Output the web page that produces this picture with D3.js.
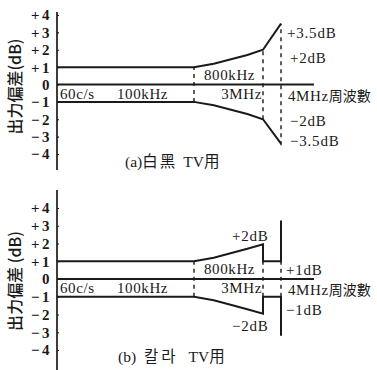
<!DOCTYPE html>
<html><head><meta charset="utf-8">
<script src="https://cdn.jsdelivr.net/npm/d3@7"></script>
<style>
body{margin:0;background:#fff;}
svg text{font-family:"Liberation Serif","DejaVu Serif",serif;fill:#1a1a1a;}
.cjk{font-family:"Noto Sans CJK JP","Noto Sans CJK KR",sans-serif;}
</style></head><body>
<svg id="c" width="377" height="370"></svg>
<script>
// ---- data ----
const yTicks = [4,3,2,1,0,-1,-2,-3,-4];
const freqBreaks = [0, 0.8, 3, 4, 4.75];            // MHz (0 ≈ 60c/s)
const freqLabels = [
  {f:0, text:"60c/s", side:"below"},
  {f:0.35, text:"100kHz", side:"below"},
  {f:0.8, text:"800kHz", side:"above"},
  {f:3, text:"3MHz", side:"below"},
  {f:4, text:"4MHz周波數", side:"below"}
];
// (a) black & white TV
const bwUpper = [[0,1],[0.8,1],[1.43,1.2],[2.5,1.7],[3,2],[4,3.5]];
const bwLower = [[0,-1],[0.8,-1],[1.43,-1.2],[2.5,-1.7],[3,-2],[4,-3.4]];
const bwDashes = [[0.8,-1,1],[3,-2,2],[4,-3.5,3.5]];
const bwNotes = ["+3.5dB","+2dB","−2dB","−3.5dB"];
// (b) colour TV
const colUpper = [[0,1],[0.8,1],[1.43,1.2],[2.5,1.7],[3,1.95],[3,1],[4,1],[4,3.3]];
const colLower = [[0,-1],[0.8,-1],[1.43,-1.2],[2.5,-1.7],[3,-1.95],[3,-1],[4,-1],[4,-3.2]];
const colDashes = [[0.8,-1,1],[3,-1,1],[4,-1,1]];
const colNotes = ["+2dB","+1dB","−1dB","−2dB"];

const svg = d3.select("#c");
const ink = "#1a1a1a";
const x = d3.scaleLinear().domain(freqBreaks).range([57,194,263,281,314]);

function panel(yTop, yBot, upper, lower, dashes, title, titlePos, yTitle, axisTop, axisBot, notesFn){
  const y = d3.scaleLinear().domain([4,-4]).range([yTop,yBot]);
  const g = svg.append("g");
  g.append("line").attr("x1",57).attr("x2",57).attr("y1",axisTop).attr("y2",axisBot)
    .attr("stroke",ink).attr("stroke-width",1.7);
  const ax = d3.axisRight(y).tickValues(yTicks).tickSize(2).tickFormat(()=> "");
  const axg = g.append("g").attr("transform","translate(57,0)").call(ax);
  axg.select(".domain").remove();
  axg.selectAll("line").attr("stroke",ink).attr("stroke-width",1.2);
  g.selectAll(".ytl").data(yTicks).join("text")
    .attr("x",52).attr("y",d=>y(d)).attr("dy","0.36em").attr("text-anchor","end")
    .attr("font-size",15).attr("font-weight","bold").attr("letter-spacing","2.5")
    .text(d=> d>0? "+"+d : d<0? "−"+(-d) : "0");
  g.append("text").attr("class","cjk")
    .attr("transform",`translate(21,${y(0)+2}) rotate(-90)`)
    .attr("text-anchor","middle").attr("font-size",16).attr("font-weight","500").text(yTitle);
  g.append("line").attr("x1",x(0)).attr("x2",x(4.75)).attr("y1",y(0)).attr("y2",y(0))
    .attr("stroke",ink).attr("stroke-width",2);
  const line = d3.line().x(d=>x(d[0])).y(d=>y(d[1]));
  [upper,lower].forEach(s=>g.append("path").attr("d",line(s)).attr("fill","none")
    .attr("stroke",ink).attr("stroke-width",2));
  dashes.forEach(d=>g.append("line").attr("x1",x(d[0])).attr("x2",x(d[0]))
    .attr("y1",y(d[1])).attr("y2",y(d[2])).attr("stroke",ink)
    .attr("stroke-width",1.4).attr("stroke-dasharray","4,4"));
  const pos = {0:[60,"start"],0.35:[117,"start"],0.8:[204,"start"],3:[x(3)-1,"end"],4:[x(4)+7,"start"]};
  freqLabels.forEach(l=>{
    const p = pos[l.f];
    const t = g.append("text").attr("x",p[0]).attr("text-anchor",p[1]).attr("font-size",15)
      .attr("letter-spacing","0.6")
      .attr("y", l.side==="above"? y(0)-5 : y(0)+ (l.f===4? 16 : 14));
    if(l.f===4){
      t.append("tspan").text("4MHz");
      t.append("tspan").attr("class","cjk").attr("font-size",14).attr("letter-spacing","0").text("周波數");
    } else t.text(l.text);
  });
  notesFn(g,y);
  const tt = g.append("text").attr("x",titlePos.x).attr("y",titlePos.y).attr("font-size",15.5);
  title.forEach(p=>tt.append("tspan").attr("class",p.cjk?"cjk":null)
    .attr("dx",p.dx||0).attr("letter-spacing",p.ls||0).text(p.t));
}

function notes(g,y,list,pts){
  list.forEach((n,i)=>g.append("text").attr("x",pts[i][0]).attr("y",y(pts[i][1])).attr("dy","0.36em")
    .attr("font-size",15).attr("letter-spacing","0.8").text(n));
}

panel(15, 154, bwUpper, bwLower, bwDashes,
  [{t:"(a)"},{t:"白黑",cjk:true,ls:2},{t:"TV",dx:6},{t:"用",cjk:true}], {x:125,y:167},
  "出力偏差(dB)", 12, 170,
  (g,y)=>notes(g,y,bwNotes,[[287,3.0],[290,1.55],[290,-2.05],[290,-3.25]]));

panel(208, 350, colUpper, colLower, colDashes,
  [{t:"(b)"},{t:"칼라",cjk:true,dx:8,ls:3},{t:"TV",dx:10},{t:"用",cjk:true}], {x:118,y:362},
  "出力偏差 (dB)", 190, 370,
  (g,y)=>notes(g,y,colNotes,[[232,2.45],[286,0.55],[286,-1.7],[232,-2.65]]));
</script></body></html>
